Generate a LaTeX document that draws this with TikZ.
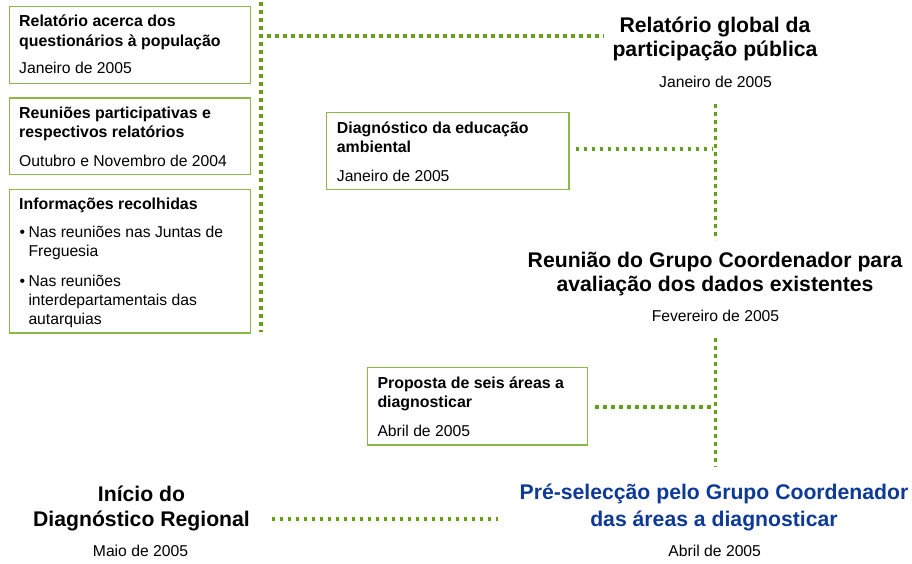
\documentclass[tikz,border=0pt]{standalone}
\usepackage{fontspec}
\setmainfont{Liberation Sans}
\definecolor{dotgreen}{RGB}{102,160,25}
\definecolor{boxgreen}{RGB}{140,185,70}
\definecolor{titleblue}{RGB}{12,58,150}
\tikzset{
  boxframe/.style={draw=boxgreen, line width=1.4pt, rectangle, inner sep=0pt, anchor=north west},
  dotline/.style={draw=dotgreen, line width=3.6pt, dash pattern=on 3.6pt off 4.4pt},
  boxhead/.style={anchor=base west, inner sep=0pt, font=\fontsize{15.9}{19}\selectfont\bfseries},
  boxtext/.style={anchor=base west, inner sep=0pt, font=\fontsize{15.7}{19}\selectfont},
  bighead/.style={anchor=base, inner sep=0pt, font=\fontsize{21.2}{25}\selectfont\bfseries},
  bigdate/.style={anchor=base, inner sep=0pt, font=\fontsize{15.7}{19}\selectfont},
}
\begin{document}
\begin{tikzpicture}[x=1pt,y=-1pt]
\useasboundingbox (0,0) rectangle (912,563);

% ---- left boxes
\node[boxframe, minimum width=241pt, minimum height=77pt] (b1) at (9,5.7) {};
\node[boxhead] (b1t1) at (19,26.7) {Relatório acerca dos};
\node[boxhead] (b1t2) at (19,46.7) {questionários à população};
\node[boxtext] (b1d) at (19,73.3) {Janeiro de 2005};

\node[boxframe, minimum width=241pt, minimum height=76.7pt] (b2) at (9,97.3) {};
\node[boxhead] (b2t1) at (19,118.3) {Reuniões participativas e};
\node[boxhead] (b2t2) at (19,137.7) {respectivos relatórios};
\node[boxtext] (b2d) at (19,166.7) {Outubro e Novembro de 2004};

\node[boxframe, minimum width=241pt, minimum height=143.6pt] (b3) at (9,188.7) {};
\node[boxhead] (b3t1) at (19,209.3) {Informações recolhidas};
\node[boxtext] (b3bA) at (19.5,237.7) {•};
\node[boxtext] (b3l1) at (28.3,237.7) {Nas reuniões nas Juntas de};
\node[boxtext] (b3l2) at (28.3,256.7) {Freguesia};
\node[boxtext] (b3bB) at (19.5,286.7) {•};
\node[boxtext] (b3l3) at (28.3,286.7) {Nas reuniões};
\node[boxtext] (b3l4) at (28.3,305.7) {interdepartamentais das};
\node[boxtext] (b3l5) at (28.3,324.3) {autarquias};

% ---- middle boxes
\node[boxframe, minimum width=242.3pt, minimum height=77.3pt] (bd) at (326,111.7) {};
\node[boxhead] (bdt1) at (336.7,133.3) {Diagnóstico da educação};
\node[boxhead] (bdt2) at (336.7,152.3) {ambiental};
\node[boxtext] (bdd) at (336.7,181) {Janeiro de 2005};

\node[boxframe, minimum width=220pt, minimum height=77.6pt] (bp) at (366.7,366.7) {};
\node[boxhead] (bpt1) at (377.3,388.3) {Proposta de seis áreas a};
\node[boxhead] (bpt2) at (377.3,407.3) {diagnosticar};
\node[boxtext] (bpd) at (377.3,436.7) {Abril de 2005};

% ---- right-hand milestones
\node[bighead] (g1) at (715,32.5) {Relatório global da};
\node[bighead] (g2) at (715,56) {participação pública};
\node[bigdate] (gd) at (715.5,87.3) {Janeiro de 2005};

\node[bighead] (r1) at (715,267) {Reunião do Grupo Coordenador para};
\node[bighead] (r2) at (715,291) {avaliação dos dados existentes};
\node[bigdate] (rd) at (715.5,321) {Fevereiro de 2005};

\node[bighead, text=titleblue] (p1) at (714,499) {Pré-selecção pelo Grupo Coordenador};
\node[bighead, text=titleblue] (p2) at (714,526.7) {das áreas a diagnosticar};
\node[bigdate] (pd) at (714.7,556.7) {Abril de 2005};

\node[bighead] (i1) at (141.5,501.7) {Início do};
\node[bighead] (i2) at (141.5,526.7) {Diagnóstico Regional};
\node[bigdate] (id) at (140.5,556.7) {Maio de 2005};

% ---- connector end points
\coordinate (lvTop) at (261,2);
\coordinate (lvBot) at (261,332);
\coordinate (hTopA) at (267,35.7);
\coordinate (hTopB) at (604,35.7);
\coordinate (mvTop) at (715.5,104);
\coordinate (mvBot) at (715.5,240);
\coordinate (hDA) at (575.5,149);
\coordinate (hDB) at (712,149);
\coordinate (lwTop) at (715.5,338);
\coordinate (lwBot) at (715.5,467);
\coordinate (hPA) at (595,406.7);
\coordinate (hPB) at (712,406.7);
\coordinate (hIA) at (271.7,519);
\coordinate (hIB) at (498,519);

% ---- dotted connectors
\draw[dotline] (lvTop) -- (lvBot);
\draw[dotline] (hTopA) -- (hTopB);
\draw[dotline] (mvTop) -- (mvBot);
\draw[dotline] (hDA) -- (hDB);
\draw[dotline] (lwTop) -- (lwBot);
\draw[dotline] (hPA) -- (hPB);
\draw[dotline, line width=3.3pt, dash pattern=on 3.3pt off 4.7pt] (hIA) -- (hIB);
\end{tikzpicture}
\end{document}
